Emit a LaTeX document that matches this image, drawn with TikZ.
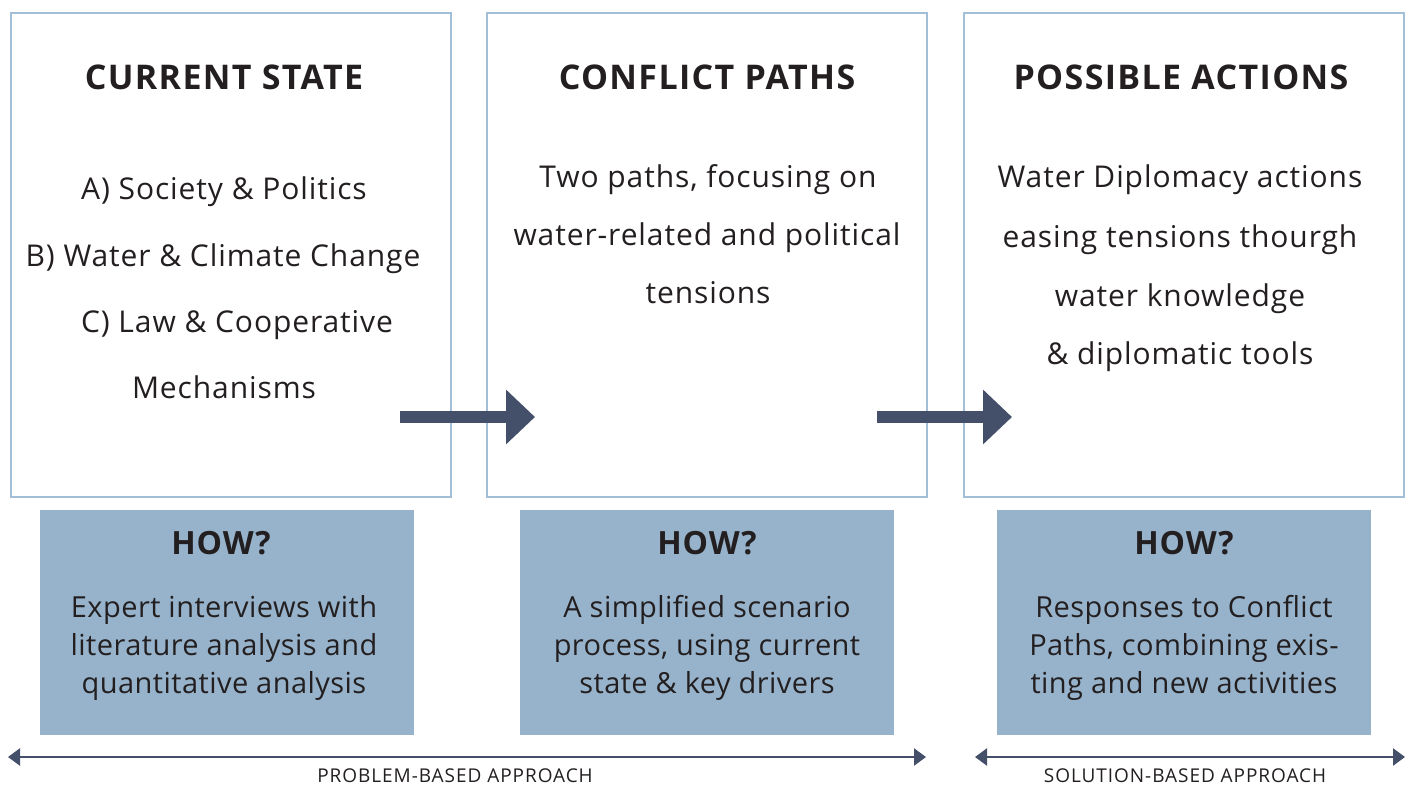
\documentclass[tikz,border=0pt]{standalone}
\usepackage{fontspec}
\setmainfont{Open Sans}
\usetikzlibrary{arrows.meta}
\definecolor{frame}{HTML}{A3BFD8}
\definecolor{howfill}{HTML}{97B3CB}
\definecolor{darkarrow}{HTML}{44506A}
\definecolor{ink}{HTML}{231F20}
\begin{document}
\begin{tikzpicture}[x=1pt,y=-1pt,
  panel/.style={draw=frame,line width=2pt,minimum width=440pt,minimum height=484pt,inner sep=0pt},
  howbox/.style={fill=howfill,minimum width=374pt,minimum height=225pt,inner sep=0pt},
  title/.style={anchor=base,inner sep=0pt,text=ink,font=\fontsize{34}{40}\selectfont\bfseries\addfontfeatures{LetterSpace=4}},
  body/.style={anchor=base,inner sep=0pt,text=ink,font=\fontsize{30}{36}\selectfont\addfontfeatures{LetterSpace=3}},
  howtitle/.style={anchor=base,inner sep=0pt,text=ink,font=\fontsize{32}{38}\selectfont\bfseries\addfontfeatures{LetterSpace=3}},
  howtext/.style={anchor=base,inner sep=0pt,text=ink,font=\fontsize{29}{34}\selectfont\addfontfeatures{LetterSpace=1.5}},
  bigarrow/.style={draw=darkarrow,line width=12.5pt,-{Triangle[length=29pt,width=53pt]}},
  span/.style={draw=darkarrow,line width=2.5pt,{Triangle[length=12pt,width=17pt]}-{Triangle[length=12pt,width=17pt]}},
  spanlabel/.style={anchor=base,inner sep=0pt,text=ink,font=\fontsize{19}{22}\selectfont\addfontfeatures{LetterSpace=5}}]
\useasboundingbox (0,0) rectangle (1413,785);
% panels
\node[panel] (p1) at (231,255) {};
\node[panel] (p2) at (707,255) {};
\node[panel] (p3) at (1184,255) {};
% titles
\node[title] (t1) at (224,89) {CURRENT STATE};
\node[title] (t2) at (707,89) {CONFLICT PATHS};
\node[title] (t3) at (1181,89) {POSSIBLE ACTIONS};
% box 1 text
\node[body] (a1) at (224,199) {A) Society \& Politics};
\node[body] (a2) at (223,266) {B) Water \& Climate Change};
\node[body] (a3) at (237,332) {C) Law \& Cooperative};
\node[body] (a4) at (224,398) {Mechanisms};
% box 2 text
\node[body] (b1) at (708,187) {Two paths, focusing on};
\node[body] (b2) at (707,245) {water-related and political};
\node[body] (b3) at (708,303) {tensions};
% box 3 text
\node[body] (c1) at (1180,187) {Water Diplomacy actions};
\node[body] (c2) at (1180,247) {easing tensions thourgh};
\node[body] (c3) at (1180,306) {water knowledge};
\node[body] (c4) at (1180,364) {\& diplomatic tools};
% how boxes
\node[howbox] (h1) at (227,622.5) {};
\node[howbox] (h2) at (707,622.5) {};
\node[howbox] (h3) at (1184,622.5) {};
\node[howtitle] (ht1) at (221,554) {HOW?};
\node[howtitle] (ht2) at (707,554) {HOW?};
\node[howtitle] (ht3) at (1184,554) {HOW?};
\node[howtext] (d1) at (224,617) {Expert interviews with};
\node[howtext] (d2) at (224,655) {literature analysis and};
\node[howtext] (d3) at (224,693) {quantitative analysis};
\node[howtext] (e1) at (707,617) {A simplified scenario};
\node[howtext] (e2) at (707,655) {process, using current};
\node[howtext] (e3) at (707,693) {state \& key drivers};
\node[howtext] (f1) at (1184,617) {Responses to Conflict};
\node[howtext] (f2) at (1184,655) {Paths, combining exis-};
\node[howtext] (f3) at (1184,693) {ting and new activities};
% big arrows
\coordinate (ar1s) at (400,417);
\coordinate (ar1e) at (535,417);
\coordinate (ar2s) at (877,417);
\coordinate (ar2e) at (1012,417);
\draw[bigarrow] (ar1s) -- (ar1e);
\draw[bigarrow] (ar2s) -- (ar2e);
% approach spans
\coordinate (s1a) at (8,757);
\coordinate (s1b) at (926,757);
\coordinate (s2a) at (975,757);
\coordinate (s2b) at (1405,757);
\draw[span] (s1a) -- (s1b);
\draw[span] (s2a) -- (s2b);
\node[spanlabel] (l1) at (455,782) {PROBLEM-BASED APPROACH};
\node[spanlabel] (l2) at (1185,782) {SOLUTION-BASED APPROACH};
\end{tikzpicture}
\end{document}
